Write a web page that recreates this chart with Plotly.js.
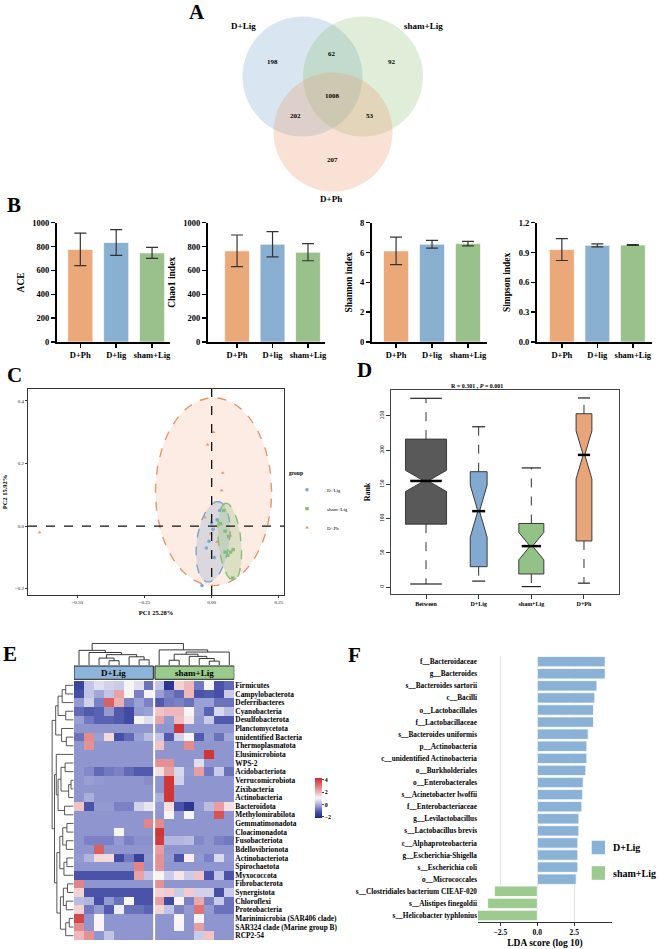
<!DOCTYPE html>
<html>
<head>
<meta charset="utf-8">
<script src="https://cdn.plot.ly/plotly-3.0.1.min.js"></script>
<style>
  html, body { margin: 0; padding: 0; background: #fff; }
  #fig { width: 660px; height: 949px; }
</style>
</head>
<body>
<div id="fig"></div>
<script>
// ---- A: venn counts ----
const vennSets = ['D+Lig', 'sham+Lig', 'D+Ph'];
const vennCounts = [198, 62, 92, 1008, 202, 53, 207]; // Dlig only, Dlig&sham, sham only, all, Dlig&Ph, sham&Ph, Ph only

// ---- B: alpha diversity ----
const alphaGroups = ['D+Ph', 'D+lig', 'sham+Lig'];
const aceMean = [776, 834, 747];
const aceErr = [136, 108, 46];
const chaoMean = [764, 820, 753];
const chaoErr = [133, 106, 72];
const shannonMean = [6.11, 6.56, 6.60];
const shannonErr = [0.92, 0.26, 0.15];
const simpsonMean = [0.93, 0.972, 0.976];
const simpsonErr = [0.11, 0.015, 0.004];

// ---- C: PCA ----
const pcaGroups = ['D+Lig', 'sham+Lig', 'D+Ph'];
const pcaDLigX = [-0.01, -0.036, 0.005, 0.02, -0.02, 0.01, 0.03, 0.0];
const pcaDLigY = [-0.048, -0.19, -0.01, 0.02, -0.07, -0.1, 0.05, 0.01];
const pcaShamX = [0.033, 0.05, 0.063, 0.05, 0.07, 0.08, 0.078, 0.06, 0.045];
const pcaShamY = [0.008, -0.016, -0.033, -0.083, -0.083, -0.075, -0.166, -0.093, 0.05];
const pcaPhX = [-0.64, -0.015, 0.007, 0.041, 0.037, -0.026, 0.07, -0.004, 0.02];
const pcaPhY = [-0.02, 0.26, 0.30, 0.17, 0.114, 0.028, -0.03, -0.024, -0.05];
// confidence ellipses: centre x, centre y, semi-axis a, semi-axis b, angle (deg)
const ellDLig = [0.005, -0.05, 0.13, 0.06, 80];
const ellSham = [0.067, -0.05, 0.124, 0.042, 97];
const ellPh = [0.007, 0.11, 0.216, 0.30, 0];

// ---- D: anosim ranks ----
const rankGroups = ['Between', 'D+Lig', 'sham+Lig', 'D+Ph'];
const rankLow = [4.8, 9, 1, 6];
const rankQ1 = [92, 30, 19.4, 67.5];
const rankMed = [155, 111, 60, 193];
const rankQ3 = [216, 168.5, 93, 253];
const rankHigh = [275.5, 234, 174, 276];
const rankNotch = [15.5, 38, 20, 35];

// ---- E: heatmap ----
const heatRows = ['Firmicutes', 'Campylobacterota', 'Deferribacteres', 'Cyanobacteria', 'Desulfobacterota',
  'Planctomycetota', 'unidentified Bacteria', 'Thermoplasmatota', 'Elusimicrobiota', 'WPS-2',
  'Acidobacteriota', 'Verrucomicrobiota', 'Zixibacteria', 'Actinobacteria', 'Bacteroidota',
  'Methylomirabilota', 'Gemmatimonadota', 'Cloacimonadota', 'Fusobacteriota', 'Bdellovibrionota',
  'Actinobacteriota', 'Spirochaetota', 'Myxococcota', 'Fibrobacterota', 'Synergistota',
  'Chloroflexi', 'Proteobacteria', 'Marinimicrobia (SAR406 clade)', 'SAR324 clade (Marine group B)', 'RCP2-54'];
const heatGroups = ['D+Lig', 'sham+Lig'];
const heatDLig = [
  [-1.5, 0.3, 0.7, 0.5, 0.4, 1.0, 0.7, -0.8],
  [-1.3, 0.3, -0.1, 0.3, 2.3, 1.0, -0.6, 1.0],
  [-0.3, 0.5, -0.6, 3.4, 2.1, -0.6, -0.2, -0.6],
  [-0.9, -1.1, -1.0, -0.3, -1.1, -1.4, -0.3, -0.2],
  [-0.2, -0.7, -1.0, -1.0, -1.1, -1.4, 1.0, 0.7],
  [-0.35, -0.35, -0.35, -0.35, -0.35, -0.35, -0.35, -0.35],
  [-0.8, 2.7, -0.2, 1.5, -1.3, -0.9, -0.2, 0.2],
  [-0.35, 2.6, -0.35, -0.35, -0.35, -0.35, -0.35, -0.35],
  [-0.35, -0.35, -0.35, -0.35, -0.35, -0.35, -0.35, -0.35],
  [-0.35, -0.35, -0.35, -0.35, -0.35, -0.35, -0.35, -0.35],
  [-0.35, -0.5, -0.9, -0.7, -0.6, -0.9, -1.1, -1.1],
  [-0.35, -0.2, -0.3, -0.35, -0.35, -0.35, -0.35, -0.45],
  [-0.35, -0.35, -0.35, -0.35, -0.35, -0.35, -0.35, -0.35],
  [-0.35, 0.0, -0.35, -0.35, -0.35, -0.35, -0.35, -0.35],
  [1.8, -1.2, -0.3, -0.3, -0.6, -0.6, 0.5, 0.8],
  [-0.35, -0.35, -0.35, -0.35, -0.35, -0.35, -0.35, -0.35],
  [-0.35, -0.35, -0.35, -0.35, -0.35, -0.35, -0.35, 2.8],
  [-0.35, -0.35, -0.35, -0.35, 1.0, -0.35, -0.35, -0.35],
  [-0.35, -0.6, -0.6, -0.6, -0.3, -0.6, -0.4, -0.4],
  [-0.35, -0.35, 3.4, -0.35, -0.35, -0.35, -0.35, -0.35],
  [-0.3, 0.1, 1.5, 1.5, -1.4, -0.7, -1.6, -0.3],
  [-0.35, -0.35, -0.35, -0.35, -0.35, -0.35, 2.8, -0.35],
  [-1.2, -1.2, -1.2, -1.2, -1.2, -1.2, 2.3, 0.3],
  [2.8, -0.35, -0.35, -0.35, -0.35, -0.35, -0.35, -0.35],
  [1.6, -1.2, -1.2, -1.2, -1.2, -1.2, -1.2, -1.2],
  [0.2, 0.1, -1.3, -0.3, -0.8, 1.1, -1.2, -1.2],
  [1.6, -0.7, -0.3, -1.1, 0.9, -0.8, -0.8, -1.0],
  [3.8, -0.35, 1.1, -0.35, -0.35, -0.35, -0.35, -0.35],
  [2.7, -0.35, 1.1, -0.35, -0.35, -0.35, -0.35, -0.35],
  [2.0, 2.6, -0.35, 0.3, -0.35, -0.35, -0.35, -0.35]
];
const heatSham = [
  [0.3, -1.9, 1.6, 2.0, -0.7, 1.0, -1.2, -0.9],
  [-0.2, -0.6, -0.9, 2.0, -1.2, -1.1, -1.3, 0.4],
  [-1.1, -0.7, -0.6, -0.8, -0.2, -0.2, -0.8, -0.8],
  [1.8, 2.0, 2.0, 1.1, -0.2, -1.0, 0.6, 0.2],
  [2.3, -0.3, 1.9, 1.3, -0.3, 0.4, -1.1, -1.1],
  [-0.35, -0.35, 4.1, -0.35, -0.35, -0.35, -0.35, -0.35],
  [0.3, -1.1, 0.5, 1.0, -1.1, -0.3, -0.8, -0.1],
  [1.8, -0.35, -0.35, 2.7, -0.35, -0.35, -0.35, -0.35],
  [-0.35, -0.35, -0.35, -0.35, -0.35, 4.1, -0.35, -0.35],
  [2.6, 2.6, -0.35, -0.35, 0.7, -0.35, -0.35, -0.35],
  [1.4, 2.3, 0.6, -0.3, 2.4, -0.7, 0.4, -0.8],
  [-0.35, 4.1, 0.5, -0.35, -0.35, -0.35, -0.35, -0.35],
  [-0.35, 4.1, -0.35, -0.35, -0.35, -0.35, -0.35, -0.35],
  [0.0, 4.1, -0.35, -0.35, -0.35, -0.35, -0.35, -0.35],
  [-0.3, 1.4, -1.2, -1.9, -0.3, 0.2, 2.4, 1.4],
  [-0.35, 1.0, -0.35, 1.0, -0.35, -0.35, 3.6, -0.35],
  [2.7, -0.35, -0.35, -0.35, -0.35, -0.35, -0.35, -0.35],
  [4.1, -0.35, -0.35, -0.35, -0.35, -0.35, -0.35, -0.35],
  [4.0, 0.1, 0.1, 0.2, -0.5, -0.35, -0.6, -0.7],
  [2.4, -0.35, -0.35, -0.35, -0.35, -0.35, -0.35, -0.35],
  [2.6, -0.3, -1.2, 1.2, -0.3, -0.6, 0.6, -0.3],
  [2.6, -0.35, -0.35, -0.35, -0.35, -0.35, -0.35, -0.35],
  [1.1, 0.4, 1.3, 0.4, 1.8, -1.2, 0.3, -1.2],
  [2.6, -0.35, -0.35, -0.35, -0.35, -0.35, -0.35, -0.35],
  [1.6, 1.7, 0.4, 1.7, 0.5, 0.5, -1.3, 0.4],
  [2.4, -1.4, 1.1, -0.6, 2.2, -0.6, 0.4, -0.8],
  [1.6, 0.3, -0.6, -0.3, 3.1, -0.3, -0.8, -0.8],
  [-0.35, -0.35, 1.1, -0.35, 1.1, -0.35, -0.35, -0.35],
  [-0.35, -0.35, 1.0, -0.35, 2.4, -0.35, -0.35, -0.35],
  [-0.35, -0.35, -0.35, -0.35, 0.4, 1.8, -0.35, -0.35]
];
// cluster trees: [left, right, height]; >=0 leaf, <0 earlier merge -(k+1)
const colMerges = [[3, 4, 1.0], [6, 7, 1.2], [2, -1, 1.6], [5, -2, 1.9], [-3, -4, 2.4], [1, -5, 2.9], [0, -6, 3.4],
  [13, 14, 0.9], [9, 10, 1.1], [12, -8, 1.5], [11, -10, 2.0], [-9, -11, 2.5], [-12, 15, 3.0], [8, -13, 3.5],
  [-7, -14, 5.0]];
const rowMerges = [[0, 1, 1.3], [3, 4, 1.3], [2, -1, 1.9], [-3, -2, 2.6], [6, 7, 1.2], [5, -5, 2.0], [-4, -6, 3.0],
  [11, 12, 0.4], [-8, 13, 0.8], [9, 10, 1.4], [-10, -9, 2.1], [14, 15, 1.5], [-11, -12, 2.6], [8, -13, 2.9],
  [16, 17, 1.1], [18, 19, 1.2], [-15, -16, 1.8], [20, 21, 1.1], [-18, 22, 1.6], [-17, -19, 2.3],
  [23, 24, 1.0], [25, 26, 1.2], [-21, -22, 1.7], [27, 28, 0.7], [-24, 29, 1.3], [-23, -25, 2.2],
  [-20, -26, 2.8], [-14, -27, 3.2], [-7, -28, 3.6]];

// ---- F: LEfSe ----
const ldaTaxa = ['f__Bacteroidaceae', 'g__Bacteroides', 's__Bacteroides sartorii', 'c__Bacilli', 'o__Lactobacillales',
  'f__Lactobacillaceae', 's__Bacteroides uniformis', 'p__Actinobacteria', 'c__unidentified Actinobacteria',
  'o__Burkholderiales', 'o__Enterobacterales', 's__Acinetobacter lwoffii', 'f__Enterobacteriaceae',
  'g__Levilactobacillus', 's__Lactobacillus brevis', 'c__Alphaproteobacteria', 'g__Escherichia-Shigella',
  's__Escherichia coli', 'o__Micrococcales', 's__Clostridiales bacterium CIEAF-020', 's__Alistipes finegoldii',
  's__Helicobacter typhlonius'];
const ldaScore = [4.59, 4.59, 4.03, 3.89, 3.80, 3.80, 3.44, 3.35, 3.35, 3.28, 3.10, 3.06, 3.01, 2.81, 2.81,
  2.74, 2.74, 2.74, 2.63, -2.9, -3.36, -4.05];
const ldaGroups = ['D+Lig', 'sham+Lig'];

// ---- helpers ----
const W = 660, H = 949;
const dx = (a, b) => [a / W, b / W];
const dy = (t, b) => [1 - b / H, 1 - t / H];
const px = v => v / W;
const py = v => 1 - v / H;
const SERIF = 'Liberation Serif, Times New Roman, serif';
const bold = (size) => ({ family: SERIF, size: size, color: '#000', weight: 'bold' });

const cOrange = '#EBA97A', cBlue = '#89AFD1', cGreen = '#9AC08B';

const traces = [];
const shapes = [];
const annotations = [];
const layout = {
  width: W, height: H, margin: { l: 0, r: 0, t: 0, b: 0 },
  paper_bgcolor: '#fff', plot_bgcolor: 'rgba(0,0,0,0)',
  font: { family: SERIF, color: '#000' },
  showlegend: true
};

// panel letters
[['A', 197, 12], ['B', 14, 205], ['C', 14, 375], ['D', 365, 370], ['E', 10, 654], ['F', 354, 655]].forEach(l => {
  annotations.push({ xref: 'paper', yref: 'paper', x: px(l[1]), y: py(l[2]), text: '<b>' + l[0] + '</b>',
    showarrow: false, font: bold(21), xanchor: 'center', yanchor: 'middle' });
});

// ---- A: venn ----
layout.xaxis = { domain: dx(200, 460), range: [200, 460], visible: false, fixedrange: true };
layout.yaxis = { domain: dy(0, 200), range: [200, 0], visible: false, fixedrange: true };
const vennCircles = [[302.5, 76.5, 60, 'rgba(120,165,210,0.28)'], [363, 76.5, 60, 'rgba(140,190,120,0.28)'],
  [333, 132, 59.5, 'rgba(235,150,105,0.28)']];
vennCircles.forEach(c => shapes.push({ type: 'circle', xref: 'x', yref: 'y', x0: c[0] - c[2], x1: c[0] + c[2],
  y0: c[1] - c[2], y1: c[1] + c[2], fillcolor: c[3], line: { width: 0 }, layer: 'below' }));
const vennLabelPos = [[243, 26], [423, 26], [331, 199]];
vennSets.forEach((s, i) => annotations.push({ xref: 'x', yref: 'y', x: vennLabelPos[i][0], y: vennLabelPos[i][1],
  text: s, showarrow: false, font: bold(9) }));
const vennCountPos = [[272, 62], [332, 54], [392, 62], [332, 96], [295, 116], [370, 116], [332, 160]];
vennCounts.forEach((n, i) => annotations.push({ xref: 'x', yref: 'y', x: vennCountPos[i][0], y: vennCountPos[i][1],
  text: String(n), showarrow: false, font: bold(7) }));

// ---- B: alpha bars ----
const alphaPanels = [
  { mean: aceMean, err: aceErr, title: 'ACE', xd: [57, 170], xr: [-0.65, 2.5], yr: [0, 1000], dtick: 200, fmt: '' },
  { mean: chaoMean, err: chaoErr, title: 'Chao1 index', xd: [208, 325], xr: [-0.82, 2.48], yr: [0, 1000], dtick: 200, fmt: '' },
  { mean: shannonMean, err: shannonErr, title: 'Shannon index', xd: [372, 487], xr: [-0.67, 2.53], yr: [0, 8], dtick: 2, fmt: '' },
  { mean: simpsonMean, err: simpsonErr, title: 'Simpson index', xd: [537, 652], xr: [-0.7, 2.54], yr: [0, 1.2], dtick: 0.3, fmt: '.1f' }
];
alphaPanels.forEach((p, k) => {
  const n = k + 2;
  traces.push({
    type: 'bar', x: [0, 1, 2], y: p.mean, width: 0.7, xaxis: 'x' + n, yaxis: 'y' + n, showlegend: false,
    marker: { color: [cOrange, cBlue, cGreen], line: { color: 'rgba(255,255,255,0.7)', width: 1 } },
    error_y: { type: 'data', array: p.err, visible: true, color: '#333', thickness: 1.2, width: 6 },
    hoverinfo: 'skip'
  });
  layout['xaxis' + n] = {
    domain: dx(p.xd[0], p.xd[1]), range: p.xr, anchor: 'y' + n, tickvals: [0, 1, 2], ticktext: alphaGroups,
    ticks: 'outside', ticklen: 4, tickwidth: 1.5, tickcolor: '#000', showline: true, linewidth: 2, linecolor: '#000',
    showgrid: false, zeroline: false, tickfont: bold(8.5), fixedrange: true
  };
  layout['yaxis' + n] = {
    domain: dy(222.7, 342), range: p.yr, anchor: 'x' + n, dtick: p.dtick, tickformat: p.fmt,
    ticks: 'outside', ticklen: 4, tickwidth: 1.5, tickcolor: '#000', showline: true, linewidth: 2, linecolor: '#000',
    showgrid: false, zeroline: false, tickfont: bold(8.5), fixedrange: true,
    title: { text: p.title, font: bold(9.5), standoff: 6 }
  };
});

// ---- C: PCA ----
function ellipse(e) {
  const xs = [], ys = [], th = e[4] * Math.PI / 180;
  for (let i = 0; i <= 100; i++) {
    const t = 2 * Math.PI * i / 100;
    xs.push(e[0] + e[2] * Math.cos(t) * Math.cos(th) - e[3] * Math.sin(t) * Math.sin(th));
    ys.push(e[1] + e[2] * Math.cos(t) * Math.sin(th) + e[3] * Math.sin(t) * Math.cos(th));
  }
  return { xs, ys };
}
const pcaStyle = [
  { ell: ellPh, fill: 'rgba(238,160,120,0.2)', line: '#E8956A' },
  { ell: ellDLig, fill: 'rgba(130,165,200,0.28)', line: '#7AA6CF' },
  { ell: ellSham, fill: 'rgba(140,190,120,0.28)', line: '#86BE78' }
];
pcaStyle.forEach(s => {
  const e = ellipse(s.ell);
  traces.push({ type: 'scatter', mode: 'lines', x: e.xs, y: e.ys, xaxis: 'x6', yaxis: 'y6', fill: 'toself',
    fillcolor: s.fill, line: { color: s.line, width: 1.4, dash: 'dash' }, showlegend: false, hoverinfo: 'skip' });
});
[[pcaDLigX, pcaDLigY, 'circle', '#7AA6CF'], [pcaShamX, pcaShamY, 'square', '#86BE78'],
 [pcaPhX, pcaPhY, 'triangle-up', '#E8956A']].forEach((g, i) => {
  traces.push({ type: 'scatter', mode: 'markers', x: g[0], y: g[1], name: pcaGroups[i], xaxis: 'x6', yaxis: 'y6',
    marker: { symbol: g[2], color: g[3], size: 3.5 }, legend: 'legend2', showlegend: true, hoverinfo: 'skip' });
});
layout.xaxis6 = {
  domain: dx(28, 284), range: [-0.683, 0.269], anchor: 'y6', tickvals: [-0.5, -0.25, 0, 0.25], tickformat: '.2f',
  ticks: 'outside', ticklen: 2, tickcolor: '#333', showline: true, mirror: true, linecolor: '#333', linewidth: 1,
  showgrid: false, zeroline: false, tickfont: { family: SERIF, size: 5, color: '#222' }, fixedrange: true,
  title: { text: 'PC1 25.28%', font: bold(6.5), standoff: 6 }
};
layout.yaxis6 = {
  domain: dy(389, 595), range: [-0.22, 0.438], anchor: 'x6', tickvals: [-0.2, 0, 0.2, 0.4], tickformat: '.1f',
  ticks: 'outside', ticklen: 2, tickcolor: '#333', showline: true, mirror: true, linecolor: '#333', linewidth: 1,
  showgrid: false, zeroline: false, tickfont: { family: SERIF, size: 5, color: '#222' }, fixedrange: true,
  title: { text: 'PC2 15.92%', font: bold(6.5), standoff: 6 }
};
shapes.push({ type: 'line', xref: 'x6', yref: 'y6', x0: -0.683, x1: 0.269, y0: 0, y1: 0,
  line: { color: '#111', width: 1.3, dash: 'dash' } });
shapes.push({ type: 'line', xref: 'x6', yref: 'y6', x0: 0, x1: 0, y0: -0.22, y1: 0.438,
  line: { color: '#111', width: 1.3, dash: 'dash' } });
layout.legend2 = {
  x: px(287), y: py(468), xanchor: 'left', yanchor: 'top', bgcolor: 'rgba(0,0,0,0)',
  font: { family: SERIF, size: 5, color: '#000' }, title: { text: '<b>group</b>', font: bold(5.5) },
  itemwidth: 30, tracegroupgap: 0
};

// ---- D: rank boxplot ----
const boxFill = ['#595959', '#82AAD0', '#93C286', '#E9A57A'];
const boxW = [0.78, 0.32, 0.475, 0.30];
const pxPerUnitD = (619 - 391) / (3.665 + 0.665);
const notchW = 0.45;
rankGroups.forEach((g, i) => {
  traces.push({
    type: 'box', x: [i], q1: [rankQ1[i]], median: [rankMed[i]], q3: [rankQ3[i]],
    lowerfence: [rankQ1[i]], upperfence: [rankQ3[i]], notchspan: [rankNotch[i]], notched: true, notchwidth: notchW,
    width: boxW[i], whiskerwidth: 0, boxpoints: false, fillcolor: boxFill[i], line: { color: '#3a3a3a', width: 1 },
    xaxis: 'x7', yaxis: 'y7', showlegend: false, hoverinfo: 'skip'
  });
  traces.push({ type: 'scatter', mode: 'lines', x: [i, i, null, i, i], y: [rankQ3[i], rankHigh[i], null, rankQ1[i], rankLow[i]],
    line: { color: '#333', width: 1, dash: 'dash' }, xaxis: 'x7', yaxis: 'y7', showlegend: false, hoverinfo: 'skip' });
  traces.push({ type: 'scatter', mode: 'markers', x: [i, i], y: [rankLow[i], rankHigh[i]],
    marker: { symbol: 'line-ew', size: Math.max(6, boxW[i] * pxPerUnitD * 0.55), line: { color: '#222', width: 1.2 } },
    xaxis: 'x7', yaxis: 'y7', showlegend: false, hoverinfo: 'skip' });
  traces.push({ type: 'scatter', mode: 'markers', x: [i], y: [rankMed[i]],
    marker: { symbol: 'line-ew', size: boxW[i] * pxPerUnitD * (1 - notchW), line: { color: '#000', width: 2.5 } },
    xaxis: 'x7', yaxis: 'y7', showlegend: false, hoverinfo: 'skip' });
});
layout.xaxis7 = {
  domain: dx(391, 619), range: [-0.665, 3.665], anchor: 'y7', tickvals: [0, 1, 2, 3], ticktext: rankGroups,
  ticks: 'outside', ticklen: 4, tickcolor: '#333', showline: true, mirror: true, linecolor: '#444', linewidth: 1,
  showgrid: false, zeroline: false, tickfont: bold(6), fixedrange: true
};
layout.yaxis7 = {
  domain: dy(390, 594), range: [-9.8, 287.6], anchor: 'x7', tickvals: [0, 50, 100, 150, 200, 250], tickangle: -90,
  ticks: 'outside', ticklen: 4, tickcolor: '#333', showline: true, mirror: true, linecolor: '#444', linewidth: 1,
  showgrid: false, zeroline: false, tickfont: { family: SERIF, size: 5.5, color: '#000' }, fixedrange: true,
  title: { text: 'Rank', font: bold(8), standoff: 6 }
};
annotations.push({ xref: 'paper', yref: 'paper', x: px(505), y: py(386), text: 'R = 0.301 , <i>P</i> = 0.001',
  showarrow: false, font: bold(6), yanchor: 'middle' });

// ---- E: heatmap ----
const heatZ = heatDLig.map((r, i) => r.concat(heatSham[i]));
const heatCols = heatZ[0].map((_, j) => j);
const zmin = -2.2, zmax = 4.3;
const stop = v => (v - zmin) / (zmax - zmin);
traces.push({
  type: 'heatmap', z: heatZ, x: heatCols, y: heatRows.map((_, i) => i), xaxis: 'x8', yaxis: 'y8', zmin, zmax,
  colorscale: [[0, '#202a85'], [stop(-1.2), '#4a52aa'], [stop(-0.35), '#8f95cf'], [stop(0.4), '#c9cbe8'],
    [stop(1.05), '#fbf7f7'], [stop(2.2), '#eaa9ae'], [1, '#cc2a2a']],
  colorbar: { x: px(315), xanchor: 'left', y: py(798), yanchor: 'middle', len: 40 / H, thickness: 7,
    outlinewidth: 0, xpad: 0, ypad: 0, tickvals: [-2, 0, 2, 4], ticks: 'outside', ticklen: 2,
    tickfont: bold(6) },
  showlegend: false, hoverinfo: 'skip'
});
layout.xaxis8 = { domain: dx(74, 234.3), range: [-0.5, 15.5], anchor: 'y8', visible: false, fixedrange: true };
layout.yaxis8 = {
  domain: dy(681, 940), range: [29.5, -0.5], anchor: 'x8', side: 'right', tickvals: heatRows.map((_, i) => i),
  ticktext: heatRows, ticks: '', showline: false, showgrid: false, zeroline: false, tickfont: bold(7.4), fixedrange: true
};
shapes.push({ type: 'line', xref: 'x8', yref: 'y8', x0: 7.5, x1: 7.5, y0: -0.5, y1: 29.5,
  line: { color: '#fff', width: 2 } });
[[-0.5, 7.42, '#8DB5DA'], [7.58, 15.5, '#9ACA8C']].forEach((h, i) => {
  shapes.push({ type: 'rect', xref: 'x8', yref: 'paper', x0: h[0], x1: h[1], y0: py(679.3), y1: py(666),
    fillcolor: h[2], line: { color: '#222', width: 1 } });
  annotations.push({ xref: 'x8', yref: 'paper', x: (h[0] + h[1]) / 2, y: py(672.6), text: heatGroups[i],
    showarrow: false, font: bold(9), yanchor: 'middle' });
});

function dendro(merges) {
  const pos = [], hgt = [], a = [], b = [];
  const p = i => i >= 0 ? i : pos[-i - 1];
  const h = i => i >= 0 ? 0 : hgt[-i - 1];
  merges.forEach(m => {
    a.push(p(m[0]), p(m[0]), p(m[1]), p(m[1]), null);
    b.push(h(m[0]), m[2], m[2], h(m[1]), null);
    pos.push((p(m[0]) + p(m[1])) / 2);
    hgt.push(m[2]);
  });
  return { pos: a, hgt: b };
}
const cd = dendro(colMerges);
traces.push({ type: 'scatter', mode: 'lines', x: cd.pos, y: cd.hgt, xaxis: 'x9', yaxis: 'y9',
  line: { color: '#222', width: 0.9 }, showlegend: false, hoverinfo: 'skip' });
layout.xaxis9 = { domain: dx(74, 234.3), range: [-0.5, 15.5], anchor: 'y9', visible: false, fixedrange: true };
layout.yaxis9 = { domain: dy(643, 665), range: [0, 5.1], anchor: 'x9', visible: false, fixedrange: true };
const rd = dendro(rowMerges);
traces.push({ type: 'scatter', mode: 'lines', x: rd.hgt, y: rd.pos, xaxis: 'x10', yaxis: 'y10',
  line: { color: '#444', width: 0.9 }, showlegend: false, hoverinfo: 'skip' });
layout.xaxis10 = { domain: dx(48, 74), range: [4.3, -0.1], anchor: 'y10', visible: false, fixedrange: true };
layout.yaxis10 = { domain: dy(681, 940), range: [29.5, -0.5], anchor: 'x10', visible: false, fixedrange: true };

// ---- F: LDA bars ----
const ldaBlue = '#8AB2D6', ldaGreen = '#9DCA8F';
traces.push({
  type: 'bar', orientation: 'h', x: ldaScore, y: ldaTaxa.map((_, i) => i), width: 0.86, xaxis: 'x11', yaxis: 'y11',
  marker: { color: ldaScore.map(v => v > 0 ? ldaBlue : ldaGreen), line: { color: '#fff', width: 0.8 } },
  showlegend: false, hoverinfo: 'skip'
});
layout.xaxis11 = {
  domain: dx(478, 612), range: [-4.01, 5.05], anchor: 'y11', tickvals: [-2.5, 0, 2.5], tickformat: '.1f',
  ticks: 'outside', ticklen: 3, tickcolor: '#333', showline: true, linecolor: '#333', linewidth: 1,
  showgrid: true, gridcolor: '#e2e2e2', gridwidth: 1.2, zeroline: false, tickfont: bold(7.5), fixedrange: true,
  title: { text: 'LDA score (log 10)', font: bold(9.5), standoff: 8 }
};
layout.yaxis11 = {
  domain: dy(655.6, 921.5), range: [21.5, -0.5], anchor: 'x11', tickvals: ldaTaxa.map((_, i) => i), ticktext: ldaTaxa,
  ticks: '', showline: false, showgrid: false, zeroline: false, tickfont: bold(7.3), fixedrange: true
};
[[847.5, ldaBlue], [873, ldaGreen]].forEach((l, i) => {
  shapes.push({ type: 'rect', xref: 'paper', yref: 'paper', x0: px(591.7), x1: px(605), y0: py(l[0] - 6.8), y1: py(l[0] + 6.8),
    fillcolor: l[1], line: { width: 0 } });
  annotations.push({ xref: 'paper', yref: 'paper', x: px(611), y: py(l[0]), text: ldaGroups[i], showarrow: false,
    xanchor: 'left', yanchor: 'middle', font: bold(10) });
});

layout.shapes = shapes;
layout.annotations = annotations;

Plotly.newPlot('fig', traces, layout, { displayModeBar: false, staticPlot: true });
</script>
</body>
</html>
